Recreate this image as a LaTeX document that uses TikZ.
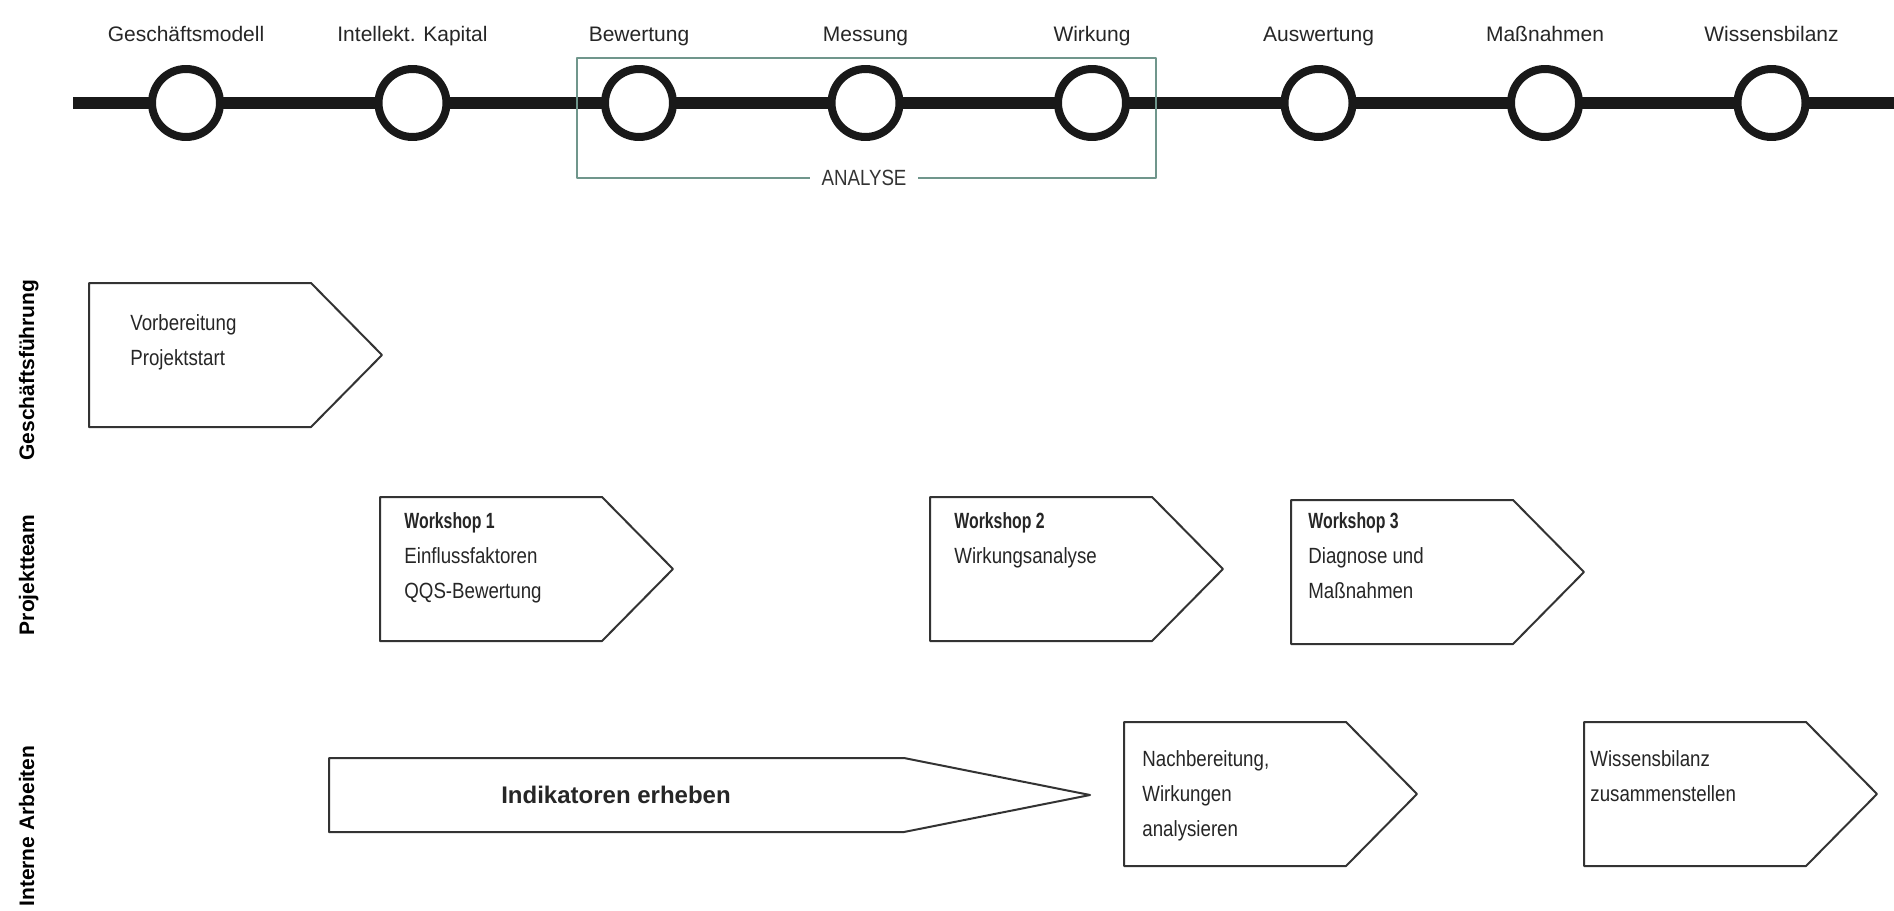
\documentclass[tikz,border=0pt]{standalone}
\usepackage{fontspec}
\setmainfont{Liberation Sans}
\newfontfamily\narrowfont{Liberation Sans}[FakeStretch=0.85]
\newfontfamily\condfont{Liberation Sans}[FakeStretch=0.72]
\usetikzlibrary{positioning}
\definecolor{analysegreen}{RGB}{112,150,140}

\tikzset{
  pics/task/.style n args={3}{code={
    \draw[line width=1pt, draw=black!80, fill=white]
      (0,0) -- (#1,0) -- ({#1+#2},{#3/2}) -- (#1,#3) -- (0,#3) -- cycle;
  }},
}

\begin{document}
\begin{tikzpicture}[x=0.5pt, y=-0.5pt, line join=round,
    timeline/.style={line width=6pt, black!90},
    phase/.style={circle, draw=black!90, line width=4pt, fill=white,
      minimum size=34pt, inner sep=0pt},
    phaselabel/.style={anchor=base, font=\fontsize{10.5}{13}\selectfont, text=black!85},
    analyse/.style={line width=0.7pt, draw=analysegreen},
    lane/.style={rotate=90, anchor=base, font=\bfseries\fontsize{10.5}{12}\selectfont},
    tasktext/.style={anchor=north west, align=left, inner sep=0pt,
      font=\narrowfont\fontsize{11}{17.5}\selectfont, text=black!85}]
  \useasboundingbox (0,0) rectangle (1894,910);

  % Timeline with phases
  \coordinate (tl0) at (73,103);
  \coordinate (tl1) at (1900,103);
  \draw[timeline] (tl0) -- (tl1);

  % Analysis frame (behind the circles)
  \coordinate (an0) at (577,58);
  \coordinate (an1) at (1156,178);
  \draw[analyse] (an0) rectangle (an1);
  \node[fill=white, inner xsep=6pt, font=\narrowfont\fontsize{11}{13}\selectfont, text=black!80]
    (ana) at (864,178) {ANALYSE};

  \foreach \txt [count=\i] in {Geschäftsmodell, Intellekt. Kapital, Bewertung, Messung,
      Wirkung, Auswertung, Maßnahmen, Wissensbilanz}{
    \node[phase] (c\i) at ({186+226.5*(\i-1)},103) {};
    \node[phaselabel] (t\i) at ({186+226.5*(\i-1)},41) {\txt};
  }

  % Lane titles
  \node[lane] (gf) at (34,370) {Geschäftsführung};
  \node[lane] (pt) at (34,575) {Projektteam};
  \node[lane] (ia) at (34,826) {Interne Arbeiten};

  % Geschaeftsfuehrung
  \pic at (89,283) {task={222}{71}{144}};
  \node[tasktext] (vb) at (130,314) {Vorbereitung\\Projektstart};

  % Projektteam
  \pic at (380,497) {task={222}{71}{144}};
  \node[tasktext] (ws1) at (404,512)
    {{\condfont\bfseries Workshop 1}\\Einflussfaktoren\\QQS-Bewertung};
  \pic at (930,497) {task={222}{71}{144}};
  \node[tasktext] (ws2) at (954,512)
    {{\condfont\bfseries Workshop 2}\\Wirkungsanalyse};
  \pic at (1291,500) {task={222}{71}{144}};
  \node[tasktext] (ws3) at (1308,512)
    {{\condfont\bfseries Workshop 3}\\Diagnose und\\Maßnahmen};

  % Interne Arbeiten
  \pic at (329,758) {task={575}{186}{74}};
  \node[font=\bfseries\fontsize{12}{14}\selectfont, text=black!85] (ind) at (616,795) {Indikatoren erheben};
  \pic at (1124,722) {task={222}{71}{144}};
  \node[tasktext] (nb) at (1142,750) {Nachbereitung,\\Wirkungen\\analysieren};
  \pic at (1584,722) {task={222}{71}{144}};
  \node[tasktext] (wb) at (1590,750) {Wissensbilanz\\zusammenstellen};
\end{tikzpicture}
\end{document}
